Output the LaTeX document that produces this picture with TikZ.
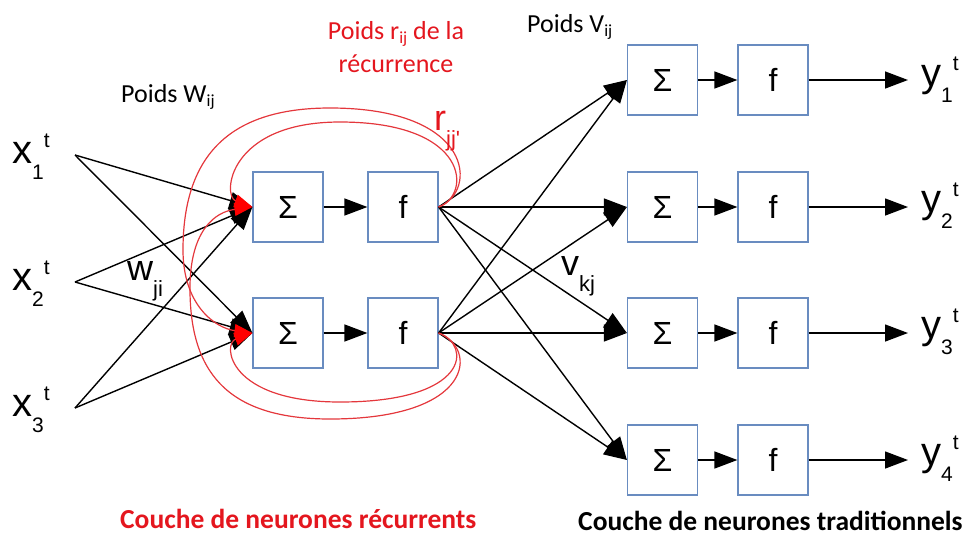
\documentclass[tikz,border=0pt]{standalone}
\usepackage{fontspec}
\setmainfont{Carlito}
\newfontfamily\arialf{Liberation Sans}
\usetikzlibrary{arrows.meta}
\definecolor{boxblue}{RGB}{105,140,192}
\definecolor{rtext}{RGB}{228,22,30}
\definecolor{rcurve}{RGB}{228,55,60}
\newcommand\fs[1]{\fontsize{#1}{#1}\selectfont}
\newcommand\varlab[3]{{\arialf\fs{40}#1\raisebox{-16pt}{\fs{21}#2}\raisebox{16pt}{\fs{21}#3}}}
\newcommand\sublab[2]{{\arialf\fs{36}#1\raisebox{-16pt}{\fs{22}#2}}}
\tikzset{
  box/.style={draw=boxblue, line width=1.2pt, minimum size=70pt, inner sep=0pt, fill=white, font=\arialf\fs{32}},
  arr/.style={draw=black, line width=1.4pt, -{Triangle[length=23pt,width=17pt]}},
  rarr/.style={draw=rcurve, line width=1.2pt, -{Triangle[length=18pt,width=13pt,fill=red,color=red]}},
  lab/.style={anchor=base west, inner sep=0pt, font=\fs{26}},
}
\begin{document}
\begin{tikzpicture}[x=1pt,y=-1pt]
\useasboundingbox (0,0) rectangle (966,544);
% recurrent layer
\node[box] (s1) at (288,207) {Σ};
\node[box] (f1) at (403,207) {f};
\node[box] (s2) at (288,333) {Σ};
\node[box] (f2) at (403,333) {f};
% traditional layer
\foreach \k/\y in {1/80,2/207,3/333,4/460}{
  \node[box] (rs\k) at (662.5,\y) {Σ};
  \node[box] (rf\k) at (773,\y) {f};
  \coordinate (o\k) at (908,\y);
}
% inputs
\coordinate (i1) at (75,155);
\coordinate (i2) at (75,282);
\coordinate (i3) at (75,408);
\node[anchor=base west, inner sep=0pt] (x1) at (12,163) {\varlab{x}{1}{t}};
\node[anchor=base west, inner sep=0pt] (x2) at (12,290) {\varlab{x}{2}{t}};
\node[anchor=base west, inner sep=0pt] (x3) at (12,416) {\varlab{x}{3}{t}};
% outputs
\node[anchor=base west, inner sep=0pt] (y1) at (921,86) {\varlab{y}{1}{t}};
\node[anchor=base west, inner sep=0pt] (y2) at (921,212) {\varlab{y}{2}{t}};
\node[anchor=base west, inner sep=0pt] (y3) at (921,338) {\varlab{y}{3}{t}};
\node[anchor=base west, inner sep=0pt] (y4) at (921,465) {\varlab{y}{4}{t}};
% input arrows
\foreach \i in {1,2,3}{
  \draw[arr] (i\i) -- (s1.west);
  \draw[arr] (i\i) -- (s2.west);
}
% inner arrows
\draw[arr] (s1.east) -- (f1.west);
\draw[arr] (s2.east) -- (f2.west);
\foreach \k in {1,2,3,4}{
  \draw[arr] (f1.east) -- (rs\k.west);
  \draw[arr] (f2.east) -- (rs\k.west);
  \draw[arr] (rs\k.east) -- (rf\k.west);
  \draw[arr] (rf\k.east) -- (o\k);
}
% recurrent curves
\draw[rarr] (f1.east) .. controls (472,195) and (470,122) .. (340,122)
  .. controls (228,122) and (222,196) .. (s1.west);
\draw[rarr] (f1.east) .. controls (478,192) and (475,108) .. (330,108)
  .. controls (225,108) and (183,160) .. (183,250)
  .. controls (183,305) and (215,328) .. (s2.west);
\draw[rarr] (f2.east) .. controls (472,345) and (470,402) .. (340,402)
  .. controls (228,402) and (222,344) .. (s2.west);
\draw[rarr] (f2.east) .. controls (478,348) and (475,419) .. (330,419)
  .. controls (225,419) and (189,370) .. (190,285)
  .. controls (191,230) and (215,212) .. (s1.west);
% labels
\node[lab] (lw) at (121,102) {Poids W\raisebox{-4pt}{\fs{17}ij}};
\node[lab] (lv) at (527,32) {Poids V\raisebox{-4pt}{\fs{17}ij}};
\node[anchor=base, inner sep=0pt, font=\fs{26}, text=rtext] (lr1) at (396,39) {Poids r\raisebox{-4pt}{\fs{17}ij} de la};
\node[anchor=base, inner sep=0pt, font=\fs{26}, text=rtext] (lr2) at (396,72) {récurrence};
\node[anchor=base west, inner sep=0pt] (wji) at (127,280) {\sublab{w}{ji}};
\node[anchor=base west, inner sep=0pt] (vkj) at (561,275) {\sublab{v}{kj}};
\node[anchor=base west, inner sep=0pt, text=rtext] (rjj) at (434,130) {\sublab{r}{jj'}};
\node[anchor=base west, inner sep=0pt, font=\bfseries\fs{27.5}, text=rtext] (bl) at (120,528) {Couche de neurones récurrents};
\node[anchor=base west, inner sep=0pt, font=\bfseries\fs{27.5}] (br) at (578,530) {Couche de neurones traditionnels};
\end{tikzpicture}
\end{document}
